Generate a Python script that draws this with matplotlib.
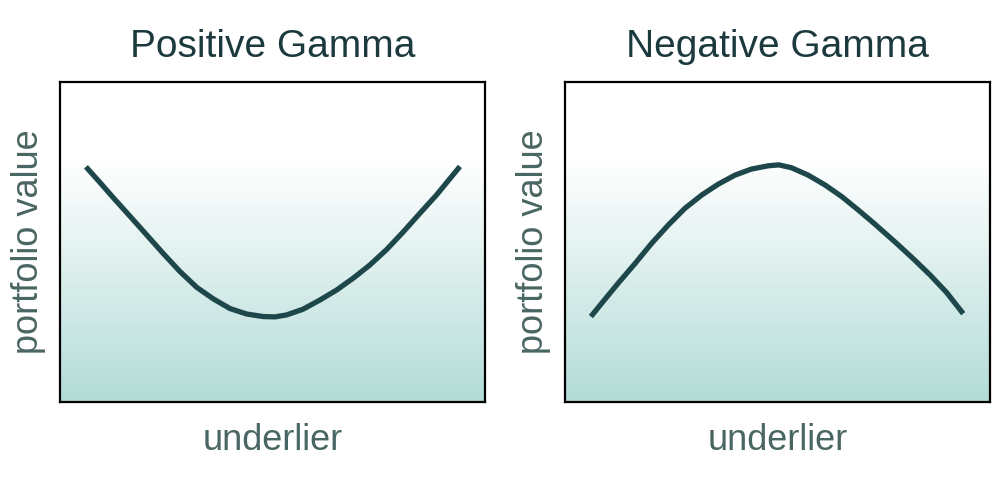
import matplotlib
matplotlib.use('Agg')
import matplotlib.pyplot as plt
import numpy as np
from matplotlib.colors import LinearSegmentedColormap

plt.rcParams['font.family'] = ['Liberation Sans', 'DejaVu Sans']

TITLES = ['Positive Gamma', 'Negative Gamma']
XLABEL = 'underlier'
YLABEL = 'portfolio value'

# curves (axes run 0..10 both ways)
POS_X = [0.61, 0.94, 1.25, 1.65, 2.04, 2.43, 2.82, 3.22, 3.61, 4.00, 4.39, 4.78, 5.06,
         5.33, 5.72, 6.12, 6.51, 6.90, 7.29, 7.69, 8.08, 8.47, 8.86, 9.41]
POS_Y = [7.35, 6.86, 6.39, 5.80, 5.22, 4.64, 4.08, 3.58, 3.22, 2.92, 2.75, 2.67, 2.66,
         2.72, 2.90, 3.19, 3.50, 3.87, 4.28, 4.77, 5.32, 5.90, 6.47, 7.36]
NEG_X = [0.61, 0.86, 1.25, 1.65, 2.04, 2.43, 2.82, 3.22, 3.61, 4.00, 4.39, 4.78, 5.03,
         5.33, 5.72, 6.12, 6.51, 6.90, 7.29, 7.80, 8.20, 8.59, 8.98, 9.37]
NEG_Y = [2.67, 3.08, 3.71, 4.33, 4.96, 5.53, 6.05, 6.47, 6.81, 7.09, 7.28, 7.38, 7.41,
         7.32, 7.09, 6.78, 6.42, 6.00, 5.56, 4.96, 4.47, 3.97, 3.42, 2.76]

CURVE = '#1e474b'
TITLE_C = '#1c3a3e'
LABEL_C = '#4a6662'

fig = plt.figure(figsize=(10, 4.8), dpi=100)

# white top, fading to pale teal at the bottom
cmap = LinearSegmentedColormap.from_list(
    'bg', [(0.0, '#b3dcd7'), (0.75, '#ffffff'), (1.0, '#ffffff')])
grad = np.linspace(0, 1, 256).reshape(-1, 1)

panels = [
    (0.060, TITLES[0], POS_X, POS_Y),
    (0.565, TITLES[1], NEG_X, NEG_Y),
]

for left, title, xs, ys in panels:
    ax = fig.add_axes([left, 0.1625, 0.425, 0.6667])
    ax.imshow(grad, cmap=cmap, origin='lower', aspect='auto',
              extent=[0, 10, 0, 10], zorder=0)
    ax.plot(xs, ys, color=CURVE, lw=3.8, solid_capstyle='butt',
            solid_joinstyle='round', zorder=2)
    ax.set_xlim(0, 10)
    ax.set_ylim(0, 10)
    ax.set_xticks([])
    ax.set_yticks([])
    for s in ax.spines.values():
        s.set_linewidth(1.6)
        s.set_color('black')
    ax.set_title(title, fontsize=28, color=TITLE_C, pad=18)
    ax.set_xlabel(XLABEL, fontsize=26, color=LABEL_C, labelpad=15)
    ax.set_ylabel(YLABEL, fontsize=26, color=LABEL_C, labelpad=10)

fig.savefig('out.png', dpi=100)
